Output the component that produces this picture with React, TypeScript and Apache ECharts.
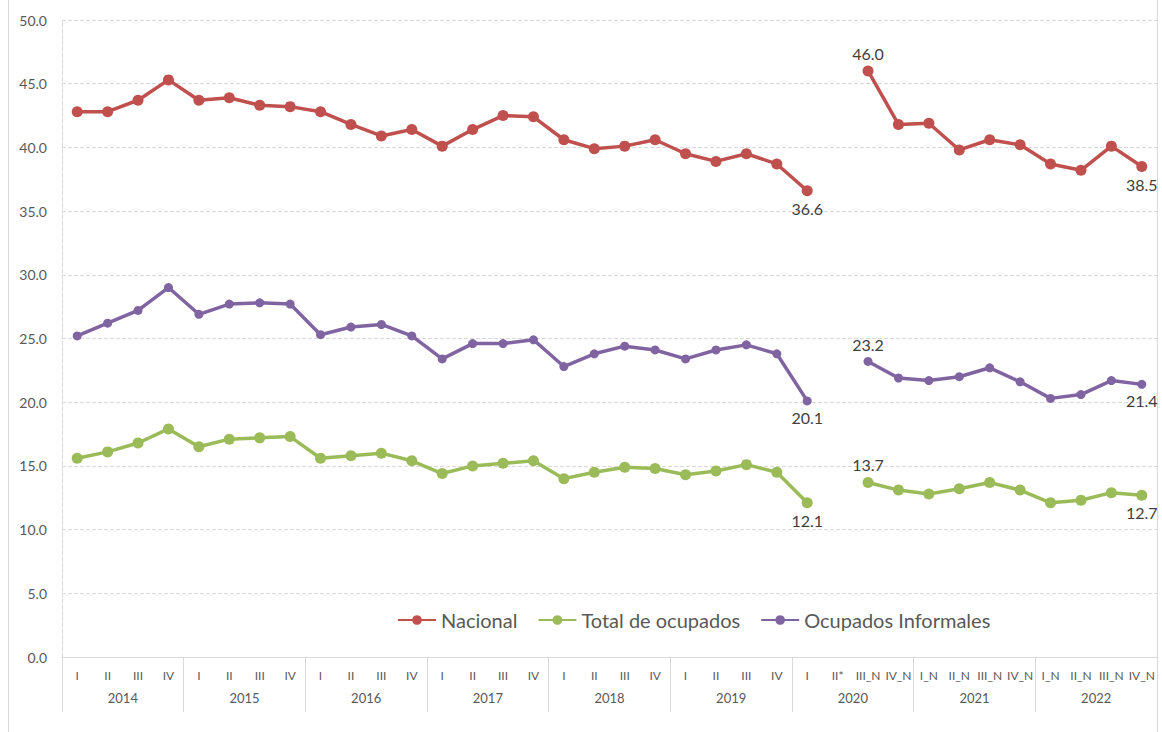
import React, { useEffect, useRef } from "react";
import * as echarts from "echarts";

const quarters = [
  "I", "II", "III", "IV", "I", "II", "III", "IV", "I", "II", "III", "IV",
  "I", "II", "III", "IV", "I", "II", "III", "IV", "I", "II", "III", "IV",
  "I", "II*", "III_N", "IV_N", "I_N", "II_N", "III_N", "IV_N", "I_N", "II_N", "III_N", "IV_N",
];
const years = ["2014", "2015", "2016", "2017", "2018", "2019", "2020", "2021", "2022"];

const nacional: (number | null)[] = [
  42.8, 42.8, 43.7, 45.3, 43.7, 43.9, 43.3, 43.2, 42.8, 41.8, 40.9, 41.4,
  40.1, 41.4, 42.5, 42.4, 40.6, 39.9, 40.1, 40.6, 39.5, 38.9, 39.5, 38.7,
  36.6, null, 46.0, 41.8, 41.9, 39.8, 40.6, 40.2, 38.7, 38.2, 40.1, 38.5,
];
const totalOcupados: (number | null)[] = [
  15.6, 16.1, 16.8, 17.9, 16.5, 17.1, 17.2, 17.3, 15.6, 15.8, 16.0, 15.4,
  14.4, 15.0, 15.2, 15.4, 14.0, 14.5, 14.9, 14.8, 14.3, 14.6, 15.1, 14.5,
  12.1, null, 13.7, 13.1, 12.8, 13.2, 13.7, 13.1, 12.1, 12.3, 12.9, 12.7,
];
const informales: (number | null)[] = [
  25.2, 26.2, 27.2, 29.0, 26.9, 27.7, 27.8, 27.7, 25.3, 25.9, 26.1, 25.2,
  23.4, 24.6, 24.6, 24.9, 22.8, 23.8, 24.4, 24.1, 23.4, 24.1, 24.5, 23.8,
  20.1, null, 23.2, 21.9, 21.7, 22.0, 22.7, 21.6, 20.3, 20.6, 21.7, 21.4,
];

const labelledPoints: Record<number, string> = { 24: "bottom", 26: "top", 35: "bottom" };

const FONT = "Lato, 'Open Sans', sans-serif";

function withLabels(values: (number | null)[]) {
  return values.map((v, i) => {
    const pos = labelledPoints[i];
    if (pos && v !== null) {
      return {
        value: v,
        label: {
          show: true,
          position: pos,
          distance: 4,
          formatter: (p: any) => Number(p.value).toFixed(1),
          fontSize: 16,
          color: "#404040",
          fontFamily: FONT,
        },
      };
    }
    return v;
  });
}

export default function App() {
  const ref = useRef<HTMLDivElement>(null);
  useEffect(() => {
    document.body.style.margin = "0";
    const chart = echarts.init(ref.current!, null, { renderer: "svg" });
    const mkSeries = (name: string, data: (number | null)[], color: string, size: number) => ({
      name,
      type: "line",
      data: withLabels(data),
      xAxisIndex: 0,
      yAxisIndex: 0,
      symbol: "circle",
      symbolSize: size,
      connectNulls: false,
      lineStyle: { color, width: 3.5 },
      itemStyle: { color },
      emphasis: { disabled: true },
    });
    chart.setOption({
      animation: false,
      textStyle: { fontFamily: FONT },
      grid: { left: 62, right: 5, top: 20, bottom: 75, containLabel: false },
      legend: {
        bottom: 97,
        left: 392,
        itemWidth: 38,
        itemHeight: 12,
        itemGap: 20,
        textStyle: { fontSize: 20, color: "#595959", fontFamily: FONT },
        data: ["Nacional", "Total de ocupados", "Ocupados Informales"],
      },
      xAxis: [
        {
          type: "category",
          data: quarters,
          position: "bottom",
          boundaryGap: true,
          axisLine: { show: true, lineStyle: { color: "#d9d9d9", width: 1 } },
          axisTick: { show: false },
          axisLabel: { interval: 0, fontSize: 12, color: "#595959", margin: 12, fontFamily: FONT },
          splitLine: { show: false },
        },
        {
          type: "category",
          data: years,
          position: "bottom",
          offset: 55,
          boundaryGap: true,
          axisLine: { show: false },
          axisTick: { show: true, inside: true, length: 55, interval: 0, lineStyle: { color: "#d9d9d9" } },
          axisLabel: { inside: true, interval: 0, fontSize: 13, color: "#595959", margin: 8, fontFamily: FONT },
          splitLine: { show: false },
        },
      ],
      yAxis: {
        type: "value",
        min: 0,
        max: 50,
        interval: 5,
        axisLine: { show: true, lineStyle: { color: "#d9d9d9", type: "dashed" } },
        axisTick: { show: false },
        axisLabel: {
          formatter: (v: number) => v.toFixed(1),
          fontSize: 14,
          color: "#595959",
          margin: 15,
          fontFamily: FONT,
        },
        splitLine: { show: true, lineStyle: { color: "#d9d9d9", type: "dashed", width: 1 } },
      },
      graphic: [
        { type: "line", shape: { x1: 8.5, y1: 0, x2: 8.5, y2: 732 }, style: { stroke: "#d9d9d9", lineWidth: 1 } },
        { type: "line", shape: { x1: 1157.5, y1: 0, x2: 1157.5, y2: 732 }, style: { stroke: "#d9d9d9", lineWidth: 1 } },
      ],
      series: [
        mkSeries("Nacional", nacional, "#C0504D", 11),
        mkSeries("Total de ocupados", totalOcupados, "#9BBB59", 11),
        mkSeries("Ocupados Informales", informales, "#8064A2", 9),
      ],
    });
    return () => chart.dispose();
  }, []);
  return <div ref={ref} style={{ width: 1162, height: 732 }} />;
}
